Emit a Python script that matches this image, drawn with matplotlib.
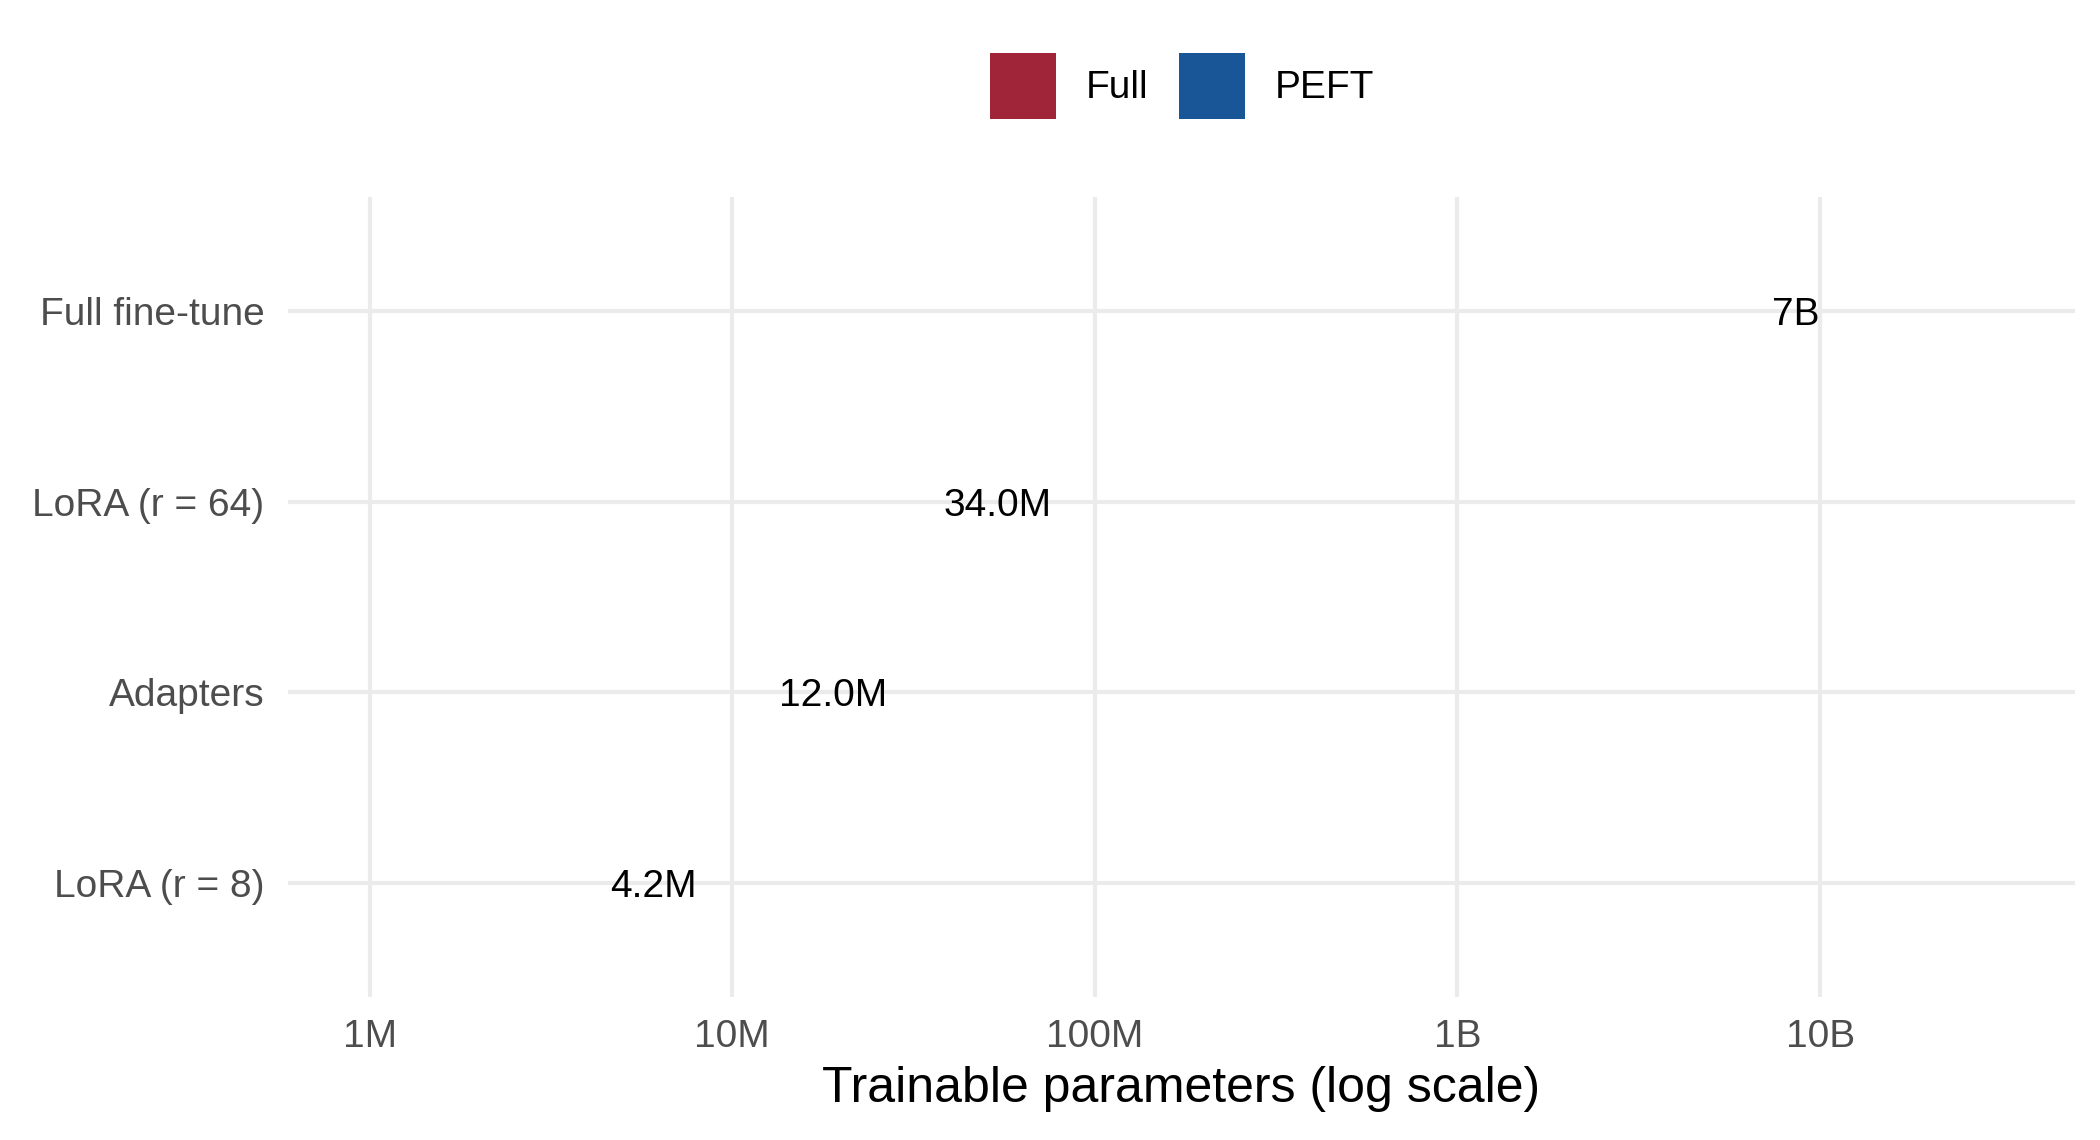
import matplotlib.pyplot as plt
from matplotlib.patches import Patch
from matplotlib.transforms import offset_copy

plt.rcParams['font.family'] = ['Liberation Sans', 'DejaVu Sans']

# data, bottom to top
methods = ['LoRA (r = 8)', 'Adapters', 'LoRA (r = 64)', 'Full fine-tune']
params = [4.2e6, 12.0e6, 34.0e6, 7e9]
labels = ['4.2M', '12.0M', '34.0M', '7B']
kinds = ['PEFT', 'PEFT', 'PEFT', 'Full']
kind_colors = {'Full': '#A02538', 'PEFT': '#185697'}

tick_vals = [1e6, 1e7, 1e8, 1e9, 1e10]
tick_labels = ['1M', '10M', '100M', '1B', '10B']

fig = plt.figure(figsize=(10.5, 5.7), dpi=200)
ax = fig.add_axes([288 / 2100, 1 - 997 / 1140, (2075 - 288) / 2100, (997 - 197) / 1140])

ax.set_xscale('log')
ax.set_xlim(10 ** 5.775, 10 ** 10.703)
ax.set_ylim(-0.6, len(methods) - 0.4)
ax.set_xticks(tick_vals)
ax.set_xticklabels(tick_labels)
ax.minorticks_off()
ax.set_yticks(range(len(methods)))
ax.set_yticklabels(methods)

ax.grid(True, color='#EBEBEB', linewidth=1.5)
ax.set_axisbelow(True)
for s in ax.spines.values():
    s.set_visible(False)
ax.tick_params(length=0, labelsize=14, labelcolor='#4D4D4D')
ax.tick_params(axis='x', pad=8)
ax.tick_params(axis='y', pad=8.5)
ax.set_xlabel('Trainable parameters (log scale)', fontsize=18, labelpad=4)

# value labels, nudged right by a fraction of their own width,
# caps centred on the gridline
fig.canvas.draw()
renderer = fig.canvas.get_renderer()
cap = 14 * 200 / 72 * 0.716
for i, (v, lab) in enumerate(zip(params, labels)):
    t = ax.text(v, i, lab, fontsize=14, ha='left', va='baseline', color='black')
    w = t.get_window_extent(renderer).width
    t.set_transform(offset_copy(ax.transData, fig=fig, x=0.17 * w, y=-cap / 2, units='dots'))

handles = [Patch(facecolor=kind_colors[k], edgecolor='none', label=k) for k in ['Full', 'PEFT']]
fig.legend(handles=handles, loc='center', bbox_to_anchor=(1182 / 2100, 1 - 86 / 1140),
           ncol=2, frameon=False, fontsize=14, handlelength=1.7, handleheight=2.2,
           handletextpad=0.75, columnspacing=0.8, borderpad=0)

fig.savefig('out.png', dpi=200, facecolor='white')
